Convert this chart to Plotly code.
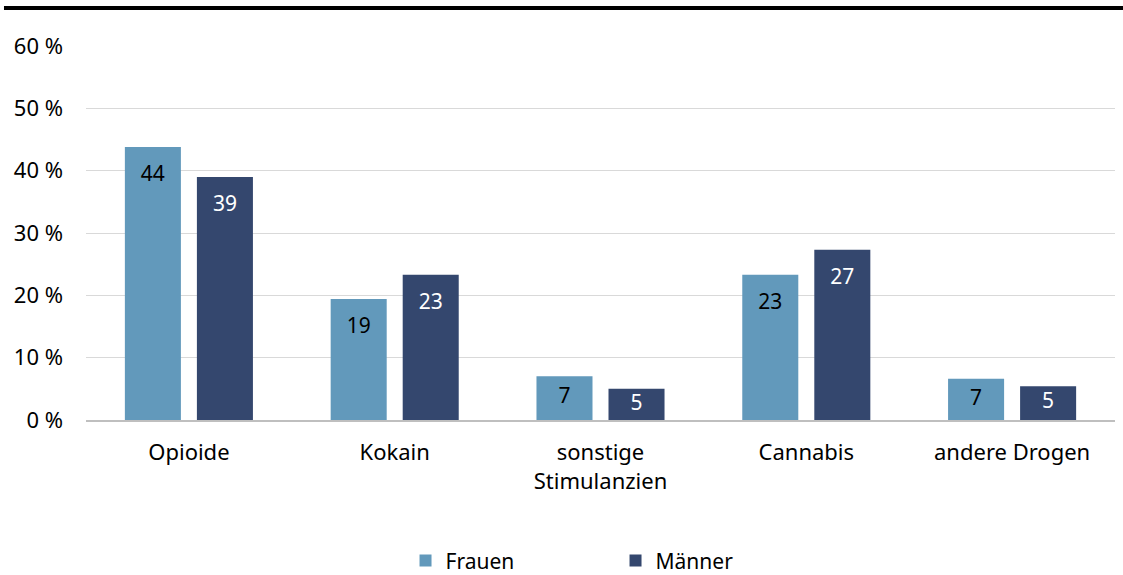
import plotly.graph_objects as go

categories = ["Opioide", "Kokain", "sonstige<br>Stimulanzien", "Cannabis", "andere Drogen"]
frauen = [43.8, 19.4, 7.0, 23.3, 6.6]
maenner = [39.0, 23.3, 5.0, 27.3, 5.4]
series_names = ["Frauen", "Männer"]
y_ticks = [0, 10, 20, 30, 40, 50, 60]
y_tick_labels = ["0 %", "10 %", "20 %", "30 %", "40 %", "50 %", "60 %"]

C_F = "#6299BB"
C_M = "#34476E"
FONT = "Noto Sans"
FS = 22

def label_pos(vals):
    return [max(v / 2, v - 4.65) for v in vals]

fig = go.Figure()
fig.add_trace(go.Bar(x=categories, y=frauen, name=series_names[0], marker_color=C_F,
                     marker_line_width=0, offsetgroup="F", hoverinfo="skip"))
fig.add_trace(go.Bar(x=categories, y=maenner, name=series_names[1], marker_color=C_M,
                     marker_line_width=0, offsetgroup="M", hoverinfo="skip"))
fig.add_trace(go.Scatter(x=categories, y=label_pos(frauen), mode="text",
                         text=[str(round(v)) for v in frauen], offsetgroup="F",
                         textfont=dict(color="#000000", size=FS - 1, family=FONT),
                         showlegend=False, hoverinfo="skip"))
fig.add_trace(go.Scatter(x=categories, y=label_pos(maenner), mode="text",
                         text=[str(round(v)) for v in maenner], offsetgroup="M",
                         textfont=dict(color="#FFFFFF", size=FS - 1, family=FONT),
                         showlegend=False, hoverinfo="skip"))

fig.update_layout(
    width=1123, height=575,
    margin=dict(l=86, r=8, t=46, b=155, autoexpand=False),
    paper_bgcolor="white", plot_bgcolor="white",
    barmode="group", bargap=0.30, bargroupgap=0.222,
    scattermode="group",
    font=dict(family=FONT, size=FS, color="#000000"),
    showlegend=True,
    legend=dict(orientation="h", x=0.5146, xanchor="center", y=-0.322, yanchor="top",
                entrywidth=165, font=dict(size=FS - 1, family=FONT, color="#000000"),
                itemclick=False, itemdoubleclick=False),
    shapes=[dict(type="line", xref="paper", yref="paper",
                 x0=-0.0797, x1=1.01, y0=1.1016, y1=1.1016,
                 line=dict(color="black", width=4))],
)
fig.update_yaxes(range=[0, 60], tickvals=y_ticks, ticktext=y_tick_labels,
                 showgrid=True, gridcolor="#d9d9d9", gridwidth=1, automargin=False,
                 zeroline=False, showline=False, ticks="", ticklabelstandoff=22,
                 tickfont=dict(size=FS, family=FONT, color="#000000"))
fig.update_xaxes(showline=True, linecolor="#bfbfbf", linewidth=2, ticks="", automargin=False,
                 ticklabelstandoff=12, tickfont=dict(size=FS, family=FONT, color="#000000"))

fig.write_html("out.html", config={"displayModeBar": False},
               post_script="document.body.style.margin='0';document.body.style.overflow='hidden';")
